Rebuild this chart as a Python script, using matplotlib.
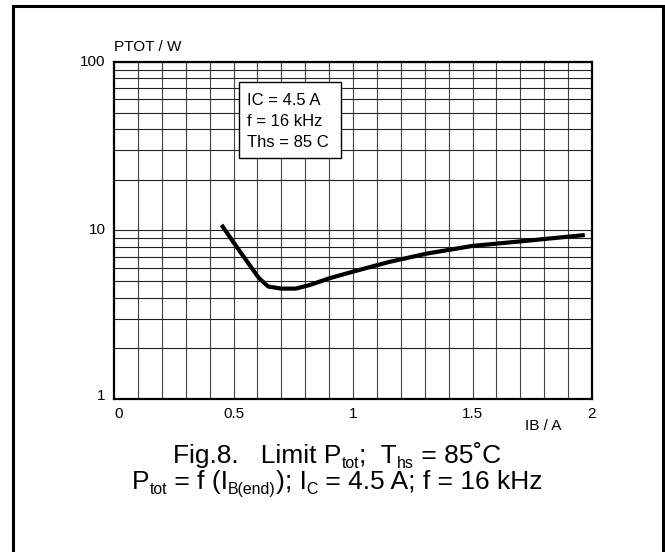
import numpy as np
import matplotlib
matplotlib.use("Agg")
import matplotlib.pyplot as plt
from matplotlib.patches import Rectangle
from matplotlib.transforms import IdentityTransform

plt.rcParams["font.family"] = ["Liberation Sans", "DejaVu Sans"]

# =========================================================
# Data
# =========================================================

ib = [0.45, 0.50, 0.555, 0.605, 0.645, 0.70, 0.76, 0.82, 0.90, 1.00,
      1.15, 1.31, 1.50, 1.73, 1.97]
ptot = [10.8, 8.5, 6.6, 5.25, 4.65, 4.52, 4.52, 4.75, 5.2, 5.7,
        6.5, 7.3, 8.1, 8.7, 9.4]

x_ticks = [0, 0.5, 1, 1.5, 2]
x_tick_labels = ["0", "0.5", "1", "1.5", "2"]
y_ticks = [1, 10, 100]
y_tick_labels = ["1", "10", "100"]

box_lines = ["IC = 4.5 A", "f = 16 kHz", "Ths = 85 C"]

# caption pieces: (text, is_subscript)
caption_1 = [("Fig.8.   Limit P", False), ("tot", True), (";  T", False),
             ("hs", True), (" = 85˚C", False)]
caption_2 = [("P", False), ("tot", True), (" = f (I", False), ("B(end)", True),
             ("); I", False), ("C", True), (" = 4.5 A; f = 16 kHz", False)]

W, H = 665, 552

# =========================================================
# Plot
# =========================================================

fig = plt.figure(figsize=(W / 100, H / 100), dpi=100)
renderer = fig.canvas.get_renderer()

# outer frame
fig.patches.append(Rectangle((13 / W, -0.05), 650 / W, 1.05 - 6 / H,
                             transform=fig.transFigure, fill=False,
                             lw=2.2, ec="black"))

ax = fig.add_axes([114 / W, 1 - 399 / H, 478 / W, 337 / H])
ax.set_yscale("log")
ax.set_xlim(0, 2)
ax.set_ylim(1, 100)

# grid
for x in np.arange(0.1, 2.0, 0.1):
    ax.axvline(x, color="#444444", lw=0.8, zorder=1)
for dec in [1, 10]:
    for m in range(2, 11):
        ax.axhline(dec * m, color="#222222", lw=0.8, zorder=1)

ax.plot(ib, ptot, color="black", lw=3, solid_capstyle="butt", zorder=3)

for s in ax.spines.values():
    s.set_linewidth(1.6)
ax.tick_params(which="both", length=0)
ax.set_xticks([])
ax.set_yticks([])
ax.minorticks_off()

# tick labels
for v, t in zip(x_ticks, x_tick_labels):
    ax.text(v / 2 + (0.01 if v == 0 else 0), -0.025, t, transform=ax.transAxes,
            ha="center", va="top", fontsize=11)
for v, t in zip(y_ticks, y_tick_labels):
    yy = np.log10(v) / 2
    ax.text(-0.018, yy + (0.008 if v == 1 else 0), t, transform=ax.transAxes,
            ha="right", va="center", fontsize=11)

ax.text(0.0, 1.025, "PTOT / W", transform=ax.transAxes, ha="left",
        va="bottom", fontsize=11)
ax.text(0.897, -0.06, "IB / A", transform=ax.transAxes, ha="center",
        va="top", fontsize=11)

# parameter box
ax.add_patch(Rectangle((0.2615, 0.715), 0.2135, 0.2257, transform=ax.transAxes,
                       fc="white", ec="black", lw=1, zorder=5))
for i, line in enumerate(box_lines):
    ax.text(0.2782, 0.8872 - i * 0.0623, line, transform=ax.transAxes,
            ha="left", va="center", fontsize=12, zorder=6)


# caption, built piece by piece so subscripts can be small
def text_width(s, size):
    a = fig.text(0, 0, "|" + s + "|", fontsize=size)
    b = fig.text(0, 0, "||", fontsize=size)
    w = a.get_window_extent(renderer).width - b.get_window_extent(renderer).width
    a.remove()
    b.remove()
    return w


def rich_line(parts, cx, base_y, size, sub_scale=0.6, sub_drop=5):
    sizes = [size * sub_scale if sub else size for _, sub in parts]
    widths = [text_width(s, sz) for (s, _), sz in zip(parts, sizes)]
    x = cx - sum(widths) / 2
    for (s, sub), sz, w in zip(parts, sizes, widths):
        fig.text(x, base_y - (sub_drop if sub else 0), s, fontsize=sz,
                 ha="left", va="baseline", transform=IdentityTransform())
        x += w


rich_line(caption_1, 337, H - 463, 19)
rich_line(caption_2, 337, H - 489, 19)

plt.savefig("out.png", dpi=100)
